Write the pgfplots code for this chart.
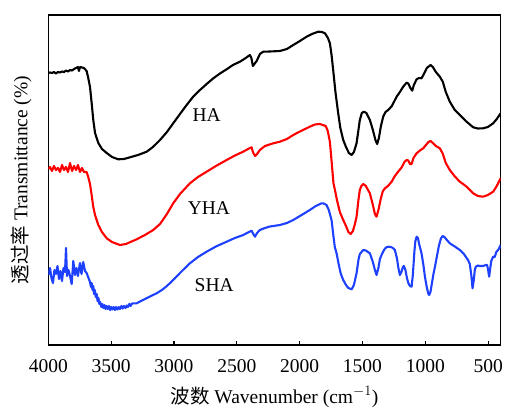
\documentclass[border=0pt]{standalone}
\usepackage{fontspec}
\setmainfont{Liberation Serif}
\newfontfamily\cjk{Noto Sans CJK SC}
\usepackage{pgfplots}
\pgfplotsset{compat=1.18}
\definecolor{myblue}{RGB}{30,64,255}
\begin{document}
\begin{tikzpicture}[font=\fontsize{19.5}{23}\selectfont]
\useasboundingbox (-48.3pt,-65pt) rectangle (457.7pt,345pt);
\begin{axis}[
  scale only axis, width=452.4pt, height=330pt,
  at={(0pt,0pt)}, anchor=south west,
  x dir=reverse, xmin=400, xmax=4000, ymin=0, ymax=330,
  xtick={500,1000,1500,2000,2500,3000,3500,4000},
  ytick=\empty,
  tick align=inside, xtick pos=bottom,
  major tick length=4.5pt,
  axis line style={line width=1.2pt},
  every tick/.style={black, line width=1.1pt},
  /pgf/number format/assume math mode=true,
  /pgf/number format/1000 sep={},
  xticklabel style={anchor=center, yshift=-21.5pt},
  every axis x label/.style={at={(axis description cs:0.5,0)}, anchor=center, yshift=-52pt},
  every axis y label/.style={at={(axis description cs:0,0.5)}, xshift=-27pt, rotate=90, anchor=center},
  xlabel={{\cjk 波数} Wavenumber (cm$^{-1}$)},
  ylabel={{\cjk 透过率} Transmittance (\%)},
  clip=true,
]
\addplot[black, line width=2.1pt, line join=round] coordinates {
(4000,272) (3986,272.5) (3971,272) (3955,273) (3939,271.5) (3923,273) (3907,272.5) (3891,273.5) (3875,273) (3859,274.5) (3843,273.5) (3827,275) (3811,274.5) (3795,276) (3779,277) (3764,278) (3756,274) (3748,278) (3732,277.5) (3716,277) (3695,274) (3682,267) (3668,258) (3655,242) (3642,225) (3628,212) (3602,202) (3573,196) (3535,192) (3493,188) (3443,185.7) (3398,186) (3350,187.7) (3286,190) (3217,193.3) (3167,198) (3111,205) (3056,213) (3006,221.7) (2952,231) (2899,240) (2849,248) (2793,255) (2740,261) (2687,266.7) (2634,271.5) (2581,275.7) (2531,280) (2475,283.3) (2435,286.5) (2396,290) (2384,287) (2372,279) (2360,281) (2342,284) (2316,291) (2290,293.3) (2236,293.5) (2157,294) (2101,296) (2051,300) (1998,304) (1944,308.3) (1902,311) (1852,313.3) (1822,313) (1798,311.7) (1775,307) (1759,301.7) (1746,290) (1733,275) (1715,253) (1693,231.7) (1676,217) (1653,205) (1631,198) (1608,192) (1586,190) (1568,193) (1547,201.7) (1532,215) (1521,225) (1505,232) (1489,233.3) (1469,232) (1441,225) (1417,215) (1397,205) (1383,201) (1369,207) (1353,219) (1335,228.3) (1317,233) (1295,235) (1266,239) (1228,248.3) (1202,253) (1176,258.3) (1149,262.3) (1135,261.5) (1119,257) (1104,254.3) (1091,260) (1069,265.7) (1051,267) (1030,266.7) (1011,271) (988,277) (958,280) (940,278) (916,273) (884,268.3) (860,263) (837,253) (805,243.3) (765,235) (725,230) (678,224) (619,217.7) (582,216.5) (540,216.7) (502,218) (460,221.7) (431,226) (401,231.7)
};
\addplot[red, line width=2.1pt, line join=round] coordinates {
(4000,176) (3986,178) (3971,174) (3955,179) (3939,175) (3923,177) (3907,173) (3891,180) (3875,175) (3859,178) (3843,173) (3827,182) (3811,174) (3795,179) (3779,175) (3764,180) (3748,173) (3732,177) (3716,173) (3695,173) (3682,168) (3668,161) (3655,150) (3642,138) (3628,130) (3602,120) (3573,113) (3535,106.7) (3493,103) (3430,100) (3382,101) (3297,105.7) (3231,110) (3165,115) (3111,121) (3056,131) (3006,141.7) (2952,151) (2873,161.7) (2809,168) (2740,173.3) (2666,179) (2581,185) (2515,189.5) (2449,193.3) (2411,196) (2382,197.7) (2372,193) (2355,189) (2339,191) (2316,195) (2276,199) (2210,201.7) (2157,203.3) (2101,206) (2051,210) (1998,213.5) (1919,218.3) (1879,220.5) (1839,221) (1792,219) (1776,214) (1759,203) (1743,180) (1731,162) (1719,155) (1703,145) (1680,133) (1653,125) (1631,119) (1612,113) (1594,111) (1576,114) (1560,121) (1547,128.3) (1532,145) (1521,155) (1509,159) (1494,161) (1473,159) (1441,151.7) (1417,140) (1401,131) (1388,128.3) (1373,135) (1353,147) (1337,154) (1321,156.7) (1297,159) (1268,163.3) (1242,169) (1216,173.3) (1186,178) (1166,183) (1149,185) (1135,184.5) (1122,181) (1109,181) (1094,187) (1069,191.7) (1043,194.5) (1016,196.7) (995,200) (975,203) (958,204) (940,202) (916,199) (884,196.7) (860,191) (837,182) (805,175) (765,168.5) (725,163.3) (678,159) (619,151.7) (582,149) (540,148.3) (502,150) (460,153.3) (431,159) (401,166.7)
};
\addplot[myblue, line width=2.1pt, line join=round] coordinates {
(4000,70) (3986,77) (3975,67) (3963,62) (3951,75) (3939,71) (3927,79) (3915,66) (3903,74) (3891,64) (3879,77) (3867,73) (3859,97) (3851,69) (3839,75) (3827,69) (3814,61) (3801,84) (3788,70) (3776,77) (3764,69) (3748,82) (3736,71) (3722,83) (3708,74) (3695,72) (3680,67) (3668,63) (3660,58) (3655,62) (3648,55) (3642,59) (3636,51) (3630,55) (3622,48) (3615,51) (3608,44) (3601,47) (3594,41) (3587,43) (3578,38) (3570,41) (3562,37) (3553,40) (3545,36) (3537,39) (3528,36) (3517,39) (3508,35) (3498,38) (3490,35.5) (3480,38) (3470,35) (3461,38) (3450,35.5) (3440,38) (3430,36) (3418,39) (3408,36.5) (3398,39) (3385,37) (3375,39.5) (3366,38) (3355,41) (3345,39) (3334,41.5) (3297,41.7) (3263,44) (3223,46.5) (3183,49) (3138,51.7) (3096,55) (3056,59) (3006,65) (2952,72) (2912,77) (2873,81.7) (2809,88) (2740,93.3) (2666,98.5) (2581,103.3) (2515,107) (2449,110) (2411,112.5) (2382,114.3) (2369,111) (2355,108.3) (2339,112) (2316,115) (2276,117) (2236,118.5) (2157,120) (2101,122) (2051,125) (1998,129) (1958,132) (1919,135) (1871,139) (1826,141.7) (1808,141.5) (1786,140) (1768,135) (1746,125) (1732,110) (1720,98) (1706,91.7) (1688,80) (1672,71) (1653,65) (1631,60) (1612,57) (1586,55.7) (1568,60) (1547,71.7) (1532,85) (1521,91) (1494,95) (1473,94.5) (1441,91.7) (1417,83) (1401,75) (1388,70) (1373,77) (1361,86) (1348,90) (1329,95) (1313,97.5) (1295,98.3) (1274,98) (1258,97) (1242,95) (1226,87) (1214,77) (1202,70) (1190,73) (1178,78) (1170,79) (1158,75) (1146,67) (1135,62) (1122,59) (1109,58.3) (1099,70) (1087,93) (1079,104) (1069,108.3) (1059,107) (1047,100) (1030,91.7) (1015,80) (1003,68.3) (987,57) (975,51) (969,50) (959,53) (947,62) (935,71) (923,78.3) (907,89) (892,99) (876,106.5) (862,109) (848,108) (828,105) (805,101.7) (765,98.5) (725,95) (693,91) (660,85) (646,81) (634,70) (624,56.7) (614,65) (606,75) (598,78.3) (582,79.5) (566,79) (540,79) (519,80) (508,80) (500,75) (492,68.3) (483,77) (475,84) (460,88.3) (447,88) (435,93) (421,95) (411,97) (401,100)
};
\node at (axis cs:2740,230) {HA};
\node at (axis cs:2722,137) {YHA};
\node at (axis cs:2680,60) {SHA};
\end{axis}
\end{tikzpicture}
\end{document}
